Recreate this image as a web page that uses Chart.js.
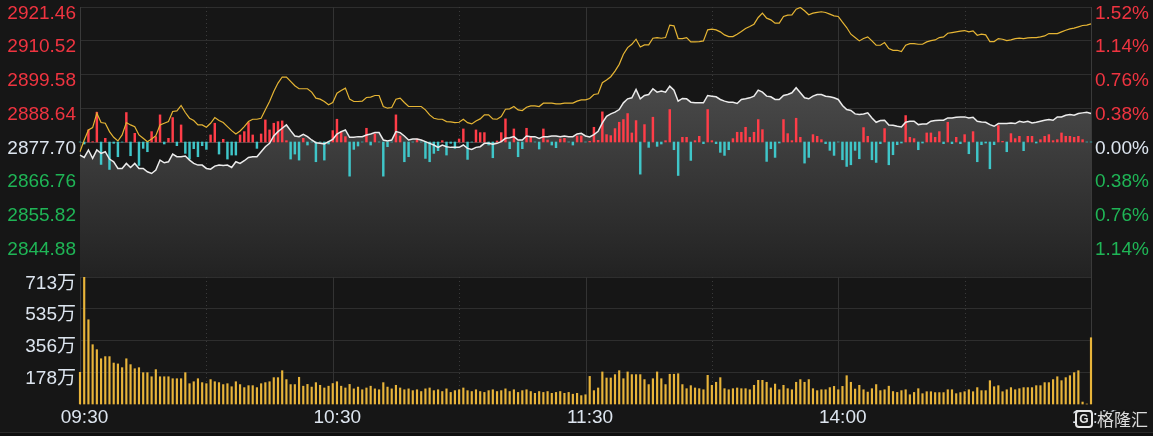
<!DOCTYPE html>
<html>
<head>
<meta charset="utf-8">
<script src="https://cdn.jsdelivr.net/npm/chart.js@4.4.1/dist/chart.umd.min.js"></script>
<style>
  html, body { margin: 0; padding: 0; background: #161616; }
  #wrap { position: relative; width: 1153px; height: 436px; overflow: hidden; }
  #top { position: absolute; left: 0; top: 0; }
  #vol { position: absolute; left: 0; top: 270px; }
  #foot { position: absolute; left: 0; top: 432px; width: 1153px; height: 4px; background: #0f0f0f; border-top: 1px solid #2a2a2a; }
</style>
</head>
<body>
<div id="wrap">
  <canvas id="top" width="1153" height="290"></canvas>
  <canvas id="vol" width="1153" height="166"></canvas>
  <div id="foot"></div>
</div>
<script>
// ---- data ----
const preClose = 2877.70;
const priceTicks = [2921.46, 2910.52, 2899.58, 2888.64, 2877.70, 2866.76, 2855.82, 2844.88];
const pctLabels = ['1.52%', '1.14%', '0.76%', '0.38%', '0.00%', '0.38%', '0.76%', '1.14%'];
const volTicks = [713, 535, 356, 178];
const shownTimes = ['09:30', '10:30', '11:30', '14:00', '15:00'];
const solidTimes = ['10:30', '11:30', '14:00'];
const dottedTimes = ['10:00', '11:00', '13:30', '14:30'];

// minute categories 09:30-11:30, 13:01-15:00
const minutes = [];
function pushRange(h0, m0, h1, m1) {
  for (let t = h0 * 60 + m0; t <= h1 * 60 + m1; t++) {
    minutes.push(String(Math.floor(t / 60)).padStart(2, '0') + ':' + String(t % 60).padStart(2, '0'));
  }
}
pushRange(9, 30, 11, 30);
pushRange(13, 1, 15, 0);

// yellow line
const leadLine = [
  2874.55, 2878.35, 2881.61, 2882.37, 2887.03, 2884.00, 2883.78, 2881.06, 2879.22, 2878.03,
  2879.98, 2884.00, 2883.24, 2882.69, 2879.98, 2878.89, 2877.81, 2878.68, 2879.76, 2883.24,
  2883.78, 2884.32, 2887.58, 2887.79, 2889.53, 2887.25, 2885.41, 2884.65, 2883.24, 2883.24,
  2882.48, 2883.78, 2885.62, 2884.65, 2884.00, 2882.69, 2881.39, 2880.30, 2881.28, 2882.69,
  2884.32, 2885.08, 2885.08, 2885.41, 2888.12, 2890.83, 2894.09, 2896.80, 2898.76, 2898.76,
  2897.35, 2895.93, 2894.96, 2894.96, 2894.96, 2893.87, 2891.92, 2891.59, 2890.83, 2889.75,
  2890.50,
  2893.54, 2894.41, 2895.17, 2891.59, 2890.83, 2890.83, 2890.94, 2892.13, 2892.24, 2892.78,
  2892.78, 2889.20, 2888.66, 2888.88, 2891.59, 2891.91, 2890.50, 2889.20, 2889.20, 2889.20,
  2889.20, 2888.12, 2886.49, 2885.40, 2885.08, 2885.08, 2884.32, 2884.21, 2883.99, 2884.10,
  2885.08, 2883.99, 2883.56, 2884.54, 2885.19, 2886.49, 2886.49, 2885.19, 2885.08, 2885.95,
  2888.33, 2888.44, 2889.20, 2888.12, 2887.90, 2888.98, 2889.42, 2889.42, 2889.20, 2890.29,
  2890.29, 2890.29, 2890.07, 2890.07, 2890.29, 2890.29, 2890.29, 2890.94, 2891.37, 2891.37,
  2891.81, 2893.11, 2893.32, 2896.90, 2897.77, 2898.86, 2900.70, 2902.87, 2906.13, 2908.30,
  2909.38, 2911.01, 2908.51, 2909.17, 2909.17, 2911.34, 2911.55, 2911.34, 2911.55, 2915.57,
  2915.35, 2911.23, 2911.23, 2911.55, 2910.14, 2910.14, 2910.25, 2910.47, 2914.05, 2914.26,
  2914.05, 2913.40, 2912.42, 2911.88, 2911.88, 2912.64, 2913.51, 2914.48, 2915.13, 2915.89,
  2918.06, 2919.47, 2917.85, 2917.30, 2916.22, 2916.22, 2918.39, 2918.82, 2918.93, 2920.77,
  2921.30, 2920.23, 2918.93, 2919.47, 2919.69, 2919.91, 2919.69, 2919.15, 2918.60, 2918.39,
  2916.54, 2914.81, 2912.64, 2911.55, 2910.47, 2911.23, 2911.77, 2910.47, 2909.06, 2909.06,
  2909.92, 2907.97, 2907.43, 2907.43, 2907.00, 2909.06, 2909.60, 2909.60, 2909.38, 2909.38,
  2910.14, 2910.58, 2910.79, 2911.55, 2911.77, 2912.96, 2913.18, 2913.40, 2913.61, 2913.83,
  2913.40, 2913.72, 2912.31, 2912.64, 2912.42, 2910.25, 2910.25, 2911.23, 2911.01, 2910.58,
  2910.79, 2911.23, 2911.34, 2911.23, 2911.44, 2911.55, 2911.55, 2911.77, 2912.09, 2912.85,
  2912.85, 2912.85, 2913.40, 2913.94, 2914.37, 2914.59, 2915.02, 2915.46, 2915.57, 2916.00
];

// white line (index)
const indexLine = [
  2873.47, 2872.71, 2875.10, 2872.38, 2875.10, 2874.01, 2874.55, 2872.17, 2871.30, 2869.13,
  2869.13, 2870.76, 2869.45, 2870.76, 2869.13, 2869.13, 2868.04, 2867.50, 2868.59, 2871.84,
  2870.97, 2871.30, 2873.79, 2872.93, 2872.93, 2873.14, 2871.84, 2870.76, 2870.21, 2870.21,
  2869.13, 2868.91, 2869.89, 2870.21, 2870.10, 2870.21, 2869.45, 2871.30, 2870.76, 2871.62,
  2872.71, 2872.93, 2872.93, 2874.55, 2876.18, 2877.27, 2879.65, 2881.06, 2882.15, 2883.23,
  2881.39, 2879.65, 2879.44, 2880.20, 2879.44, 2878.35, 2877.48, 2877.27, 2877.05, 2877.81,
  2878.57,
  2880.30, 2881.06, 2881.61, 2879.22, 2879.22, 2879.44, 2879.44, 2879.98, 2880.30, 2880.74,
  2880.74, 2878.35, 2878.03, 2878.35, 2881.06, 2880.74, 2879.65, 2878.35, 2878.68, 2878.68,
  2878.35, 2877.81, 2877.27, 2876.72, 2875.96, 2876.72, 2876.18, 2875.96, 2875.96, 2875.96,
  2876.72, 2875.64, 2875.31, 2875.96, 2876.18, 2877.27, 2877.27, 2876.94, 2877.27, 2877.81,
  2878.89, 2879.11, 2879.44, 2878.35, 2878.35, 2879.65, 2879.44, 2879.44, 2878.89, 2879.44,
  2879.44, 2879.65, 2879.65, 2879.44, 2879.65, 2879.44, 2879.44, 2880.30, 2880.52, 2879.65,
  2879.33, 2880.09, 2881.17, 2883.88, 2886.05, 2886.81, 2887.36, 2888.22, 2890.39, 2891.70,
  2892.02, 2894.73, 2891.70, 2892.78, 2893.11, 2894.95, 2893.87, 2894.19, 2893.87, 2895.82,
  2894.52, 2890.94, 2891.81, 2891.70, 2890.61, 2890.39, 2890.39, 2890.39, 2892.78, 2892.56,
  2892.35, 2891.48, 2890.94, 2890.61, 2890.61, 2890.18, 2891.48, 2891.70, 2892.02, 2892.56,
  2894.52, 2893.87, 2892.56, 2892.35, 2891.48, 2891.48, 2892.78, 2893.11, 2893.65, 2895.28,
  2893.65, 2892.02, 2891.70, 2892.56, 2893.11, 2893.11, 2892.56, 2892.35, 2892.02, 2891.48,
  2889.53, 2888.22, 2887.90, 2886.81, 2886.60, 2886.81, 2887.14, 2885.51, 2884.10, 2884.64,
  2884.75, 2883.23, 2883.13, 2882.80, 2882.58, 2884.10, 2884.43, 2884.43, 2883.34, 2883.56,
  2883.56, 2884.43, 2884.64, 2884.75, 2884.75, 2885.51, 2885.51, 2885.73, 2885.84, 2885.84,
  2885.51, 2885.73, 2884.43, 2884.21, 2884.10, 2883.34, 2882.80, 2883.67, 2883.67, 2883.67,
  2883.88, 2883.67, 2884.43, 2884.10, 2884.43, 2883.88, 2884.10, 2884.43, 2884.75, 2884.97,
  2884.75, 2885.84, 2885.84, 2886.38, 2886.60, 2886.38, 2886.92, 2887.14, 2887.36, 2886.92
];

// red / cyan bars, points above / below the previous close
const flowBars = [
  0, -0.65, 3.91, 0.11, 9.66, -7.27, 1.19, -8.90, -0.43, -4.77,
  0, 9.55, -4.45, 2.82, -7.60, -2.06, -3.15, 3.36, 1.74, 8.79,
  -0.65, 1.19, 7.92, -1.19, 5.53, -3.69, -5.53, -2.17, -4.77, -1.19,
  -2.39, 2.28, 6.08, -3.91, 0.87, -5.53, -4.23, -4.23, 2.28, 3.36,
  6.29, 2.28, -2.06, 2.60, 7.16, 3.91, 6.08, 6.62, 6.84, 0.43,
  -5.53, -3.91, -5.86, 1.19, -0.98, 0, -6.40, 0, -5.86, -0.65,
  3.69, 7.38, 3.36, 1.74, -11.07, -2.39, -1.30, 0, 4.45, -0.98,
  2.60, 0, -11.07, -1.52, 0, 8.79, 1.95, -6.40, -4.77, 0,
  0.98, 0, -5.32, -6.40, -3.69, -2.82, 0.43, -4.23, -0.43, -2.06,
  0.98, 4.23, -5.64, 0, 3.91, 3.04, 3.04, -0.98, -5.10, 0.33,
  3.04, 7.49, -2.17, 4.23, -4.77, -2.17, 4.45, 1.52, 0, -2.28,
  4.23, 0.65, -0.98, -1.84, 0.98, 1.19, 0, -0.98, 1.95, 1.95,
  0, 0.22, 4.77, 0.54, 9.77, 2.39, 2.06, 4.34, 6.40, 7.27,
  9.22, 2.93, 6.94, -10.42, 5.64, -1.74, 8.03, -1.41, -0.65, 0.43,
  10.52, -2.50, -10.85, 1.52, 1.52, -5.97, 0.43, 1.84, -0.54, 10.52,
  0.43, -0.54, -3.36, -4.34, -2.50, 1.09, 3.15, 3.15, 4.77, 1.52,
  3.15, 7.27, 4.01, -6.29, -2.17, -4.99, -0.33, 7.27, 2.71, 0.43,
  7.70, 1.52, -6.84, -4.99, 2.39, 1.84, 0.76, -0.54, -2.71, -4.34,
  0, -5.75, -7.92, -7.38, -2.71, -5.43, 4.67, 1.84, -5.75, -6.62,
  -0.54, 4.34, -7.38, -4.12, -0.87, -0.33, 8.57, 1.52, 1.09, -2.50,
  -0.33, 2.93, 2.93, 1.52, 3.36, -0.54, 6.40, -0.54, 1.52, -0.54,
  2.39, -3.80, 3.36, -6.40, -0.87, -0.33, -8.68, -0.87, 5.32, 0.22,
  -3.15, 2.71, 1.09, 1.84, -2.82, 1.84, 1.84, -0.33, 0.76, 1.84,
  2.39, 0.43, 0.76, 2.93, 1.84, 1.84, 1.52, 1.84, 0.76, 0,
  0
];

// volume, 万
const volume = [
  178, 711, 473, 333, 305, 254, 266, 266, 230, 225,
  204, 254, 221, 198, 204, 176, 176, 153, 193, 153,
  153, 153, 142, 142, 142, 176, 114, 125, 142, 120,
  114, 137, 125, 120, 109, 114, 97, 125, 109, 92,
  103, 103, 92, 114, 120, 125, 148, 148, 187, 137,
  109, 109, 150, 100, 110, 95, 120, 105, 90, 100,
  115, 125, 100, 90, 110, 85, 95, 80, 90, 100,
  85, 80, 120, 95, 85, 105, 90, 80, 85, 75,
  80, 70, 85, 90, 75, 80, 70, 85, 65, 75,
  80, 90, 75, 70, 80, 70, 65, 75, 80, 70,
  75, 85, 70, 80, 65, 75, 80, 70, 60, 70,
  65, 70, 60, 65, 70, 60, 65, 55, 60, 47,
  52, 155, 75, 90, 180, 146, 146, 165, 187, 142,
  180, 165, 165, 165, 137, 109, 142, 180, 142, 109,
  167, 167, 170, 109, 86, 103, 90, 86, 80, 161,
  105, 122, 148, 86, 80, 86, 90, 86, 86, 80,
  105, 133, 133, 122, 90, 112, 80, 105, 86, 80,
  122, 137, 122, 137, 86, 75, 80, 80, 92, 99,
  80, 99, 159, 122, 84, 105, 80, 67, 86, 109,
  75, 80, 100, 70, 65, 75, 80, 52, 65, 86,
  58, 69, 69, 64, 64, 64, 80, 80, 58, 64,
  69, 80, 69, 92, 75, 75, 131, 97, 103, 69,
  80, 92, 80, 86, 92, 92, 92, 103, 103, 120,
  120, 137, 153, 131, 148, 159, 176, 187, 11, 0,
  372
];

// ---- style ----
const FONT = { family: "'Liberation Sans', 'Noto Sans CJK SC', sans-serif", size: 19 };
const RED = '#ef3440';
const GREEN = '#1fb556';
const LIGHT = '#dde5ef';
const GRID = '#2e2e2e';
const range = priceTicks[0] - preClose;

function tickColor(v) {
  if (v > preClose + 0.001) return RED;
  if (v < preClose - 0.001) return GREEN;
  return LIGHT;
}

// keep the plot area where the layout padding puts it
function fixWidth(w) {
  return s => { s.width = w; s.paddingTop = 0; s.paddingBottom = 0; };
}

// vertical time lines, solid and dotted
const timeGrid = {
  id: 'timeGrid',
  beforeDatasetsDraw(chart) {
    const { ctx, chartArea: a, scales: { x } } = chart;
    ctx.save();
    ctx.lineWidth = 1;
    ctx.strokeStyle = '#333';
    const line = (t) => {
      const px = Math.round(x.getPixelForValue(minutes.indexOf(t))) + 0.5;
      ctx.beginPath();
      ctx.moveTo(px, a.top);
      ctx.lineTo(px, a.bottom);
      ctx.stroke();
    };
    solidTimes.forEach(line);
    ctx.setLineDash([1, 3]);
    ctx.strokeStyle = '#3a3a3a';
    dottedTimes.forEach(line);
    ctx.restore();
  }
};

const areaFill = (c) => {
  const a = c.chart.chartArea;
  if (!a) return 'rgba(80,80,80,0.6)';
  const g = c.chart.ctx.createLinearGradient(0, a.top, 0, a.bottom);
  g.addColorStop(0, '#5a5a5a');
  g.addColorStop(1, '#222222');
  return g;
};

const priceMin = priceTicks[priceTicks.length - 1] - (priceTicks[0] - priceTicks[1]);

new Chart(document.getElementById('top'), {
  type: 'line',
  data: {
    labels: minutes,
    datasets: [
      { data: indexLine, yAxisID: 'y', fill: 'start', backgroundColor: areaFill, borderWidth: 0, pointRadius: 0, order: 4 },
      {
        type: 'bar', data: flowBars, yAxisID: 'yb', barThickness: 1.8, order: 3, clip: false,
        backgroundColor: flowBars.map(v => v > 0 ? '#ff3d48' : '#3fc6c9')
      },
      { data: indexLine, yAxisID: 'y', fill: false, borderColor: '#ececec', borderWidth: 1.5, pointRadius: 0, order: 2 },
      { data: leadLine, yAxisID: 'y', fill: false, borderColor: '#e6b534', borderWidth: 1.2, pointRadius: 0, order: 1 }
    ]
  },
  options: {
    responsive: false,
    animation: false,
    events: [],
    layout: { padding: { top: 7, bottom: 13, left: 0, right: 0 } },
    plugins: { legend: { display: false }, tooltip: { enabled: false } },
    scales: {
      x: { display: false, offset: false, grid: { offset: false } },
      y: {
        position: 'left',
        min: priceMin,
        max: priceTicks[0],
        afterBuildTicks: s => { s.ticks = priceTicks.map(v => ({ value: v })); },
        afterFit: fixWidth(80),
        grid: {
          drawTicks: false,
          color: c => Math.abs(c.tick.value - preClose) < 0.001 ? '#474747' : GRID
        },
        border: { display: true, color: '#3a3a3a' },
        ticks: {
          font: FONT, padding: 4, labelOffset: 6.5,
          color: c => tickColor(c.tick.value),
          callback: v => v.toFixed(2)
        }
      },
      yr: {
        position: 'right',
        min: priceMin,
        max: priceTicks[0],
        afterBuildTicks: s => { s.ticks = priceTicks.map(v => ({ value: v })); },
        afterFit: fixWidth(62),
        grid: { display: false, drawTicks: false },
        border: { display: true, color: '#3a3a3a' },
        ticks: {
          font: FONT, padding: 4, labelOffset: 6.5,
          color: c => tickColor(c.tick.value),
          callback: (v, i) => pctLabels[i]
        }
      },
      yb: { display: false, min: -range, max: range }
    }
  },
  plugins: [timeGrid]
});

// watermark drawn over the last time label
const watermark = {
  id: 'watermark',
  afterDraw(chart) {
    const ctx = chart.ctx;
    ctx.save();
    ctx.strokeStyle = '#e6e6e6';
    ctx.lineWidth = 2;
    ctx.fillStyle = '#161616';
    ctx.beginPath();
    ctx.roundRect(1076, 141, 16, 16, 3);
    ctx.fill();
    ctx.stroke();
    ctx.fillStyle = '#e6e6e6';
    ctx.font = "bold 12px 'Liberation Sans', sans-serif";
    ctx.textAlign = 'center';
    ctx.textBaseline = 'middle';
    ctx.fillText('G', 1084, 149.5);
    ctx.font = "17px 'Noto Sans CJK SC', sans-serif";
    ctx.textAlign = 'left';
    ctx.lineWidth = 3;
    ctx.strokeStyle = '#161616';
    ctx.strokeText('格隆汇', 1097, 149.5);
    ctx.fillStyle = '#dcdcdc';
    ctx.fillText('格隆汇', 1097, 149.5);
    ctx.restore();
  }
};

const rightBorder = {
  id: 'rightBorder',
  beforeDatasetsDraw(chart) {
    const { ctx, chartArea: a } = chart;
    ctx.save();
    ctx.strokeStyle = '#3a3a3a';
    ctx.lineWidth = 1;
    ctx.beginPath();
    ctx.moveTo(Math.round(a.right) + 0.5, a.top);
    ctx.lineTo(Math.round(a.right) + 0.5, a.bottom);
    ctx.stroke();
    ctx.restore();
  }
};

new Chart(document.getElementById('vol'), {
  type: 'bar',
  data: {
    labels: minutes,
    datasets: [
      { data: volume, backgroundColor: '#e8b43a', barThickness: 1.5, clip: false }
    ]
  },
  options: {
    responsive: false,
    animation: false,
    events: [],
    layout: { padding: { top: 7, bottom: 0, left: 0, right: 62 } },
    plugins: { legend: { display: false }, tooltip: { enabled: false } },
    scales: {
      x: {
        offset: false,
        grid: { display: false, drawTicks: false, offset: false },
        border: { display: false },
        afterFit: s => { s.height = 32; s.paddingLeft = 0; s.paddingRight = 0; },
        ticks: {
          autoSkip: false, maxRotation: 0, font: FONT, color: LIGHT, padding: 2, labelOffset: 4.5,
          callback: (v, i) => shownTimes.includes(minutes[i]) ? minutes[i] : ''
        }
      },
      y: {
        position: 'left',
        min: 0,
        max: volTicks[0],
        afterBuildTicks: s => { s.ticks = volTicks.map(v => ({ value: v })); },
        afterFit: fixWidth(80),
        grid: { drawTicks: false, color: GRID },
        border: { display: true, color: '#3a3a3a' },
        ticks: { font: FONT, padding: 4, labelOffset: 6.5, color: LIGHT, callback: v => v + '万' }
      }
    }
  },
  plugins: [timeGrid, rightBorder, watermark]
});
</script>
</body>
</html>
